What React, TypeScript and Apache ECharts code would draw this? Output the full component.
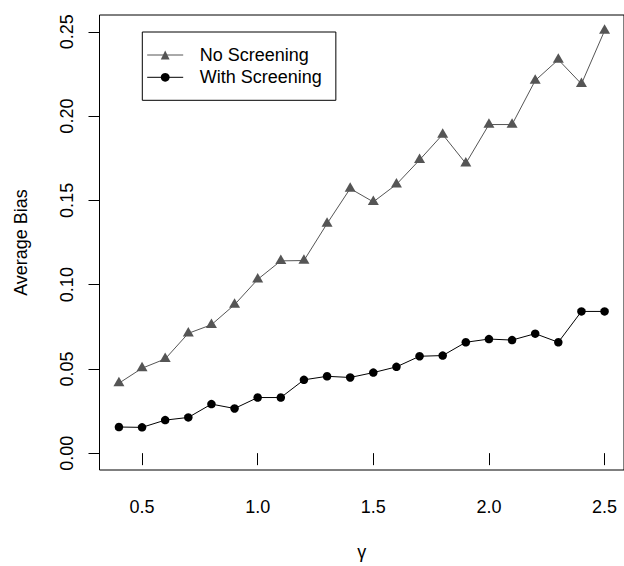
import React, { useEffect, useRef } from "react";
import * as echarts from "echarts";

const gamma = [0.4, 0.5, 0.6, 0.7, 0.8, 0.9, 1.0, 1.1, 1.2, 1.3, 1.4, 1.5, 1.6, 1.7, 1.8, 1.9, 2.0, 2.1, 2.2, 2.3, 2.4, 2.5];
const noScreening = [0.0415, 0.0504, 0.0559, 0.0711, 0.0762, 0.0881, 0.1031, 0.1141, 0.1143, 0.1362, 0.157, 0.1491, 0.1595, 0.174, 0.1891, 0.1719, 0.195, 0.195, 0.2211, 0.2335, 0.2191, 0.2507];
const withScreening = [0.0155, 0.0153, 0.0196, 0.0212, 0.0291, 0.0265, 0.033, 0.033, 0.0435, 0.0456, 0.0449, 0.0478, 0.0512, 0.0575, 0.0579, 0.0658, 0.0677, 0.0671, 0.0709, 0.0658, 0.0841, 0.0841];
const xTicks = [0.5, 1.0, 1.5, 2.0, 2.5];
const yTicks = [0, 0.05, 0.1, 0.15, 0.2, 0.25];
const seriesNames = ["No Screening", "With Screening"];

const FONT = "'Liberation Sans', Arial, Helvetica, sans-serif";

export default function App() {
  const ref = useRef<HTMLDivElement>(null);
  useEffect(() => {
    if (!ref.current) return;
    const chart = echarts.init(ref.current, null, { renderer: "svg" });
    const option: any = {
      animation: false,
      backgroundColor: "#fff",
      textStyle: { fontFamily: FONT },
      grid: {
        show: true,
        left: 99.5,
        top: 15,
        width: 526.3,
        height: 456,
        borderColor: "#000",
        borderWidth: 1,
        backgroundColor: "transparent",
        containLabel: false,
      },
      legend: {
        left: 142.3,
        top: 32,
        orient: "vertical",
        padding: [14, 14, 14, 4.4],
        itemGap: 4.3,
        itemWidth: 36,
        itemHeight: 11,
        borderColor: "#000",
        borderWidth: 1,
        borderRadius: 0,
        lineStyle: { width: 1 },
        textStyle: {
          fontFamily: FONT,
          fontSize: 18,
          color: "#000",
          lineHeight: 18,
          padding: [0, 0, 0, 11.6],
        },
        data: seriesNames,
      },
      xAxis: {
        type: "value",
        min: 0.316,
        max: 2.584,
        name: "γ",
        nameLocation: "middle",
        nameGap: 73,
        nameTextStyle: { fontFamily: FONT, fontSize: 18, color: "#000" },
        axisLine: { show: false },
        splitLine: { show: false },
        axisTick: {
          show: true,
          inside: false,
          length: 12,
          customValues: xTicks,
          lineStyle: { color: "#000", width: 1 },
        },
        axisLabel: {
          show: true,
          customValues: xTicks,
          margin: 28,
          fontFamily: FONT,
          fontSize: 18,
          color: "#000",
          formatter: (v: number) => v.toFixed(1),
        },
      },
      yAxis: {
        type: "value",
        min: -0.01,
        max: 0.26,
        name: "Average Bias",
        nameLocation: "middle",
        nameRotate: 90,
        nameGap: 70,
        nameTextStyle: { fontFamily: FONT, fontSize: 18, color: "#000" },
        axisLine: { show: false },
        splitLine: { show: false },
        axisTick: {
          show: true,
          inside: false,
          length: 11,
          customValues: yTicks,
          lineStyle: { color: "#000", width: 1 },
        },
        axisLabel: {
          show: true,
          customValues: yTicks,
          rotate: 90,
          margin: 24,
          fontFamily: FONT,
          fontSize: 18,
          color: "#000",
          formatter: (v: number) => v.toFixed(2),
        },
      },
      series: [
        {
          name: seriesNames[0],
          type: "line",
          data: gamma.map((g, i) => [g, noScreening[i]]),
          symbol: "triangle",
          symbolSize: [11, 9.5],
          symbolOffset: [0, -1.6],
          showAllSymbol: true,
          lineStyle: { color: "#555555", width: 1 },
          itemStyle: { color: "#555555" },
          color: "#555555",
          z: 2,
        },
        {
          name: seriesNames[1],
          type: "line",
          data: gamma.map((g, i) => [g, withScreening[i]]),
          symbol: "circle",
          symbolSize: 8.5,
          showAllSymbol: true,
          lineStyle: { color: "#000000", width: 1 },
          itemStyle: { color: "#000000" },
          color: "#000000",
          z: 3,
        },
      ],
    };
    chart.setOption(option);
    return () => chart.dispose();
  }, []);
  return (
    <div
      ref={ref}
      style={{ position: "fixed", left: 0, top: 0, width: 624, height: 566, background: "#fff" }}
    />
  );
}
